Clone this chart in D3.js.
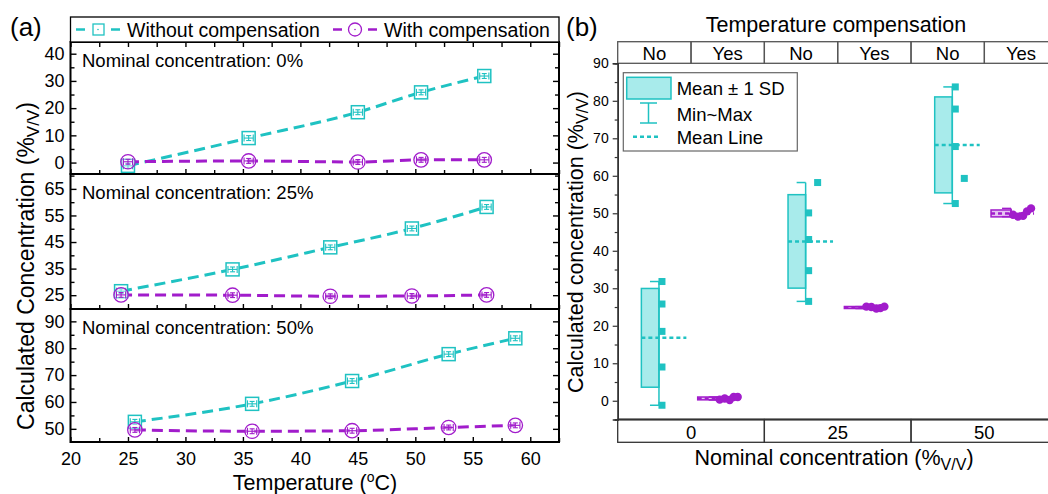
<!DOCTYPE html>
<html><head><meta charset="utf-8">
<script src="https://cdn.jsdelivr.net/npm/d3@7"></script>
<style>
body{margin:0;background:#fff}
svg{display:block}
text{font-family:"Liberation Sans",Arial,Helvetica,sans-serif;fill:#000}
</style>
</head><body>
<svg id="c" width="1048" height="494"></svg>
<script>
// ---------------- data ----------------
const seriesNames = ["Without compensation", "With compensation"];
const nominalLevels = ["0", "25", "50"];
const compLabels = ["No", "Yes"];
const temp0  = [25.0, 35.5, 45.0, 50.5, 56.0];
const temp25 = [24.4, 34.1, 42.6, 49.7, 56.2];
const temp50 = [25.6, 35.8, 44.5, 52.9, 58.7];
const without0  = [-1.2, 9.0, 18.5, 25.8, 31.8];
const with0     = [0.3, 0.6, 0.2, 1.0, 1.0];
const without25 = [26.5, 34.7, 43.0, 50.1, 58.2];
const with25    = [25.1, 25.0, 24.6, 24.7, 25.1];
const without50 = [52.6, 59.3, 67.8, 77.8, 83.7];
const with50    = [49.6, 49.1, 49.3, 50.5, 51.3];
const tempErr = [0.4, 0.4, 0.4, 0.4, 0.4];
const concErr = [0.9, 0.9, 0.9, 0.9, 0.9];
const tempTicks = [20, 25, 30, 35, 40, 45, 50, 55, 60];
const concTicks0  = [0, 10, 20, 30, 40];
const concTicks25 = [25, 35, 45, 55, 65];
const concTicks50 = [50, 60, 70, 80, 90];
const concTicksB  = [0, 10, 20, 30, 40, 50, 60, 70, 80, 90];

// ---------------- styles ----------------
const CY = "#1fc2c2", PU = "#a11ccb", CYF = "#a8ebeb", PUF = "#e6c2f2";
const svg = d3.select("#c");
const FONT = '"Liberation Sans",Arial,sans-serif';

// ================= Panel (a) =================
const xA = d3.scaleLinear([20, 62.5], [70.5, 559]);
const panelsA = [
  {t: temp0,  w: without0,  c: with0,  ticks: concTicks0,  dom: [-4.2, 44.3], top: 42,  bot: 174, label: "Nominal concentration: 0%"},
  {t: temp25, w: without25, c: with25, ticks: concTicks25, dom: [19.8, 70.6], top: 174, bot: 309, label: "Nominal concentration: 25%"},
  {t: temp50, w: without50, c: with50, ticks: concTicks50, dom: [45.1, 94.6], top: 309, bot: 442, label: "Nominal concentration: 50%"}
];
const minorX = d3.range(20, 62.6, 2.5);

panelsA.forEach((p, pi) => {
  const y = d3.scaleLinear(p.dom, [p.bot, p.top]);
  const g = svg.append("g");
  const minorY = d3.range(p.ticks[0] - 5, p.ticks[p.ticks.length - 1] + 6, 5).filter(v => v > p.dom[0] && v < p.dom[1] && !p.ticks.includes(v));

  const la = g.append("g").attr("transform", `translate(${xA.range()[0]},0)`)
    .call(d3.axisLeft(y).tickValues(p.ticks).tickSize(-6).tickPadding(6));
  la.selectAll("text").attr("font-size", 18).attr("font-family", FONT).attr("fill", "#000");
  g.append("g").attr("transform", `translate(${xA.range()[0]},0)`)
    .call(d3.axisLeft(y).tickValues(minorY).tickSize(-4).tickFormat(""));
  g.append("g").attr("transform", `translate(${xA.range()[1]},0)`)
    .call(d3.axisRight(y).tickValues(p.ticks).tickSize(-6).tickFormat(""));
  g.append("g").attr("transform", `translate(${xA.range()[1]},0)`)
    .call(d3.axisRight(y).tickValues(minorY).tickSize(-4).tickFormat(""));
  const ba = g.append("g").attr("transform", `translate(0,${p.bot})`)
    .call(d3.axisBottom(xA).tickValues(tempTicks).tickSize(-5).tickPadding(10).tickFormat(pi === 2 ? d3.format("d") : ""));
  ba.selectAll("text").attr("font-size", 18).attr("font-family", FONT).attr("fill", "#000");
  g.append("g").attr("transform", `translate(0,${p.bot})`)
    .call(d3.axisBottom(xA).tickValues(minorX.filter(v => !tempTicks.includes(v))).tickSize(-4).tickFormat(""));
  if (pi === 0) {
    g.append("g").attr("transform", `translate(0,${p.top})`)
      .call(d3.axisTop(xA).tickValues(minorX).tickSize(-5).tickFormat(""));
  }
  g.selectAll(".domain").remove();
  g.selectAll(".tick line").attr("stroke", "#000").attr("stroke-width", 1.4);

  g.append("rect").attr("x", xA.range()[0]).attr("y", p.top)
    .attr("width", xA.range()[1] - xA.range()[0]).attr("height", p.bot - p.top)
    .attr("fill", "none").attr("stroke", "#000").attr("stroke-width", 2);

  g.append("text").attr("x", 82).attr("y", p.top + 25).attr("font-size", 18.5).text(p.label);

  const line = d3.line().x(d => xA(d[0])).y(d => y(d[1])).curve(d3.curveMonotoneX);
  const dW = p.t.map((t, i) => [t, p.w[i]]);
  const dC = p.t.map((t, i) => [t, p.c[i]]);
  g.append("path").attr("d", line(dW)).attr("fill", "none").attr("stroke", CY)
    .attr("stroke-width", 3).attr("stroke-dasharray", "11,6");
  g.append("path").attr("d", line(dC)).attr("fill", "none").attr("stroke", PU)
    .attr("stroke-width", 3).attr("stroke-dasharray", "11,6");

  function errbars(data, col) {
    data.forEach((d, i) => {
      const cx = xA(d[0]), cy = y(d[1]);
      const x0 = xA(d[0] - tempErr[i]), x1 = xA(d[0] + tempErr[i]);
      const y0 = y(d[1] - concErr[i]), y1 = y(d[1] + concErr[i]);
      const eg = g.append("g").attr("stroke", col).attr("stroke-width", 1.1);
      eg.append("line").attr("x1", x0).attr("x2", x1).attr("y1", cy).attr("y2", cy);
      eg.append("line").attr("x1", x0).attr("x2", x0).attr("y1", cy - 3.5).attr("y2", cy + 3.5);
      eg.append("line").attr("x1", x1).attr("x2", x1).attr("y1", cy - 3.5).attr("y2", cy + 3.5);
      eg.append("line").attr("x1", cx).attr("x2", cx).attr("y1", y0).attr("y2", y1);
      eg.append("line").attr("x1", cx - 2.5).attr("x2", cx + 2.5).attr("y1", y0).attr("y2", y0);
      eg.append("line").attr("x1", cx - 2.5).attr("x2", cx + 2.5).attr("y1", y1).attr("y2", y1);
    });
  }
  g.selectAll(".sq").data(dW).join("rect")
    .attr("x", d => xA(d[0]) - 6.5).attr("y", d => y(d[1]) - 6.5)
    .attr("width", 13).attr("height", 13)
    .attr("fill", "#fff").attr("stroke", CY).attr("stroke-width", 1.5);
  errbars(dW, CY);
  g.selectAll(".ci").data(dC).join("circle")
    .attr("cx", d => xA(d[0])).attr("cy", d => y(d[1])).attr("r", 7.2)
    .attr("fill", "#fff").attr("fill-opacity", 0.35).attr("stroke", PU).attr("stroke-width", 1.3);
  errbars(dC, PU);
});

// legend (a)
const legA = svg.append("g");
legA.append("rect").attr("x", 70.5).attr("y", 17).attr("width", 488.5).attr("height", 25)
  .attr("fill", "#fff").attr("stroke", "#000").attr("stroke-width", 1.3);
[{x: 76, col: CY, shape: "sq", name: seriesNames[0]}, {x: 333, col: PU, shape: "ci", name: seriesNames[1]}].forEach(e => {
  const lg = legA.append("g");
  lg.append("line").attr("x1", e.x).attr("x2", e.x + 9).attr("y1", 29.5).attr("y2", 29.5).attr("stroke", e.col).attr("stroke-width", 2.5);
  lg.append("line").attr("x1", e.x + 35).attr("x2", e.x + 44).attr("y1", 29.5).attr("y2", 29.5).attr("stroke", e.col).attr("stroke-width", 2.5);
  if (e.shape === "sq") lg.append("rect").attr("x", e.x + 17).attr("y", 24).attr("width", 11).attr("height", 11).attr("fill", "none").attr("stroke", e.col).attr("stroke-width", 1.3);
  else lg.append("circle").attr("cx", e.x + 22).attr("cy", 29.5).attr("r", 6.5).attr("fill", "none").attr("stroke", e.col).attr("stroke-width", 1.3);
  lg.append("circle").attr("cx", e.x + 22).attr("cy", 29.5).attr("r", 0.8).attr("fill", e.col);
  lg.append("text").attr("x", e.x + 51).attr("y", 36.5).attr("font-size", 19.5).text(e.name);
});

svg.append("text").attr("x", 10).attr("y", 36).attr("font-size", 26).text("(a)");

const yTa = svg.append("text").attr("transform", "translate(34,266) rotate(-90)").attr("text-anchor", "middle").attr("font-size", 23);
yTa.append("tspan").text("Calculated Concentration (%");
yTa.append("tspan").attr("font-size", 17).attr("dy", 5).text("V/V");
yTa.append("tspan").attr("dy", -5).text(")");
const xTa = svg.append("text").attr("x", 315).attr("y", 490).attr("text-anchor", "middle").attr("font-size", 21.5);
xTa.append("tspan").text("Temperature (");
xTa.append("tspan").attr("font-size", 14).attr("dy", -8).text("o");
xTa.append("tspan").attr("dy", 8).text("C)");

// ================= Panel (b) =================
const cells = nominalLevels.flatMap(n => compLabels.map(c => n + "|" + c));
const xB = d3.scaleBand(cells, [617.7, 1057.7]);
const yB = d3.scaleLinear([-5, 90], [419.5, 63.3]);
const gb = svg.append("g");
const bw = xB.bandwidth();

gb.append("text").attr("x", 836).attr("y", 32).attr("text-anchor", "middle").attr("font-size", 21.5).text("Temperature compensation");
cells.forEach(c => {
  gb.append("rect").attr("x", xB(c)).attr("y", 41.7).attr("width", bw).attr("height", 21.6)
    .attr("fill", "none").attr("stroke", "#555").attr("stroke-width", 1.3);
  gb.append("text").attr("x", xB(c) + bw / 2).attr("y", 59.5).attr("text-anchor", "middle").attr("font-size", 18.5).text(c.split("|")[1]);
});
nominalLevels.forEach(n => {
  gb.append("rect").attr("x", xB(n + "|No")).attr("y", 419.5).attr("width", 2 * bw).attr("height", 22.8)
    .attr("fill", "none").attr("stroke", "#333").attr("stroke-width", 1.3);
  gb.append("text").attr("x", xB(n + "|No") + bw).attr("y", 438.5).attr("text-anchor", "middle").attr("font-size", 18.5).text(n);
});
gb.append("line").attr("x1", 617.7).attr("x2", 1057.7).attr("y1", 419.5).attr("y2", 419.5).attr("stroke", "#333").attr("stroke-width", 2);

const yaB = gb.append("g").attr("transform", "translate(617.7,0)")
  .call(d3.axisLeft(yB).tickValues(concTicksB).tickSize(5).tickPadding(4));
yaB.selectAll("text").attr("font-size", 14).attr("font-family", FONT).attr("fill", "#111");
gb.append("g").attr("transform", "translate(617.7,0)")
  .call(d3.axisLeft(yB).tickValues(d3.range(-5, 90, 10)).tickSize(3).tickFormat(""));
gb.selectAll(".domain").attr("stroke", "#333").attr("stroke-width", 1.5);
gb.selectAll(".tick line").attr("stroke", "#333").attr("stroke-width", 1.2);

const groupsB = [
  {nom: "0",  comp: "No",  vals: without0},
  {nom: "0",  comp: "Yes", vals: with0},
  {nom: "25", comp: "No",  vals: without25},
  {nom: "25", comp: "Yes", vals: with25},
  {nom: "50", comp: "No",  vals: without50},
  {nom: "50", comp: "Yes", vals: with50}
];
const styleNo  = {col: CY, fill: CYF, box: [-13, 4.6], mean: [-13, 32], dot: 3, shape: "sq"};
const styleYes = {col: PU, fill: PUF, box: [-30, -10], mean: [-30, 13], dot: 0, shape: "ci"};
groupsB.forEach(gr => {
  const s = gr.comp === "No" ? styleNo : styleYes;
  const cx = xB(gr.nom + "|" + gr.comp) + bw / 2;
  const m = d3.mean(gr.vals), sd = d3.deviation(gr.vals);
  const mn = d3.min(gr.vals), mx = d3.max(gr.vals);
  const g = gb.append("g");
  g.append("rect").attr("x", cx + s.box[0]).attr("y", yB(m + sd))
    .attr("width", s.box[1] - s.box[0]).attr("height", Math.max(yB(m - sd) - yB(m + sd), 2))
    .attr("fill", s.fill).attr("stroke", s.col).attr("stroke-width", 1.5);
  const wx = cx + s.box[1];
  g.append("line").attr("x1", wx).attr("x2", wx).attr("y1", yB(mn)).attr("y2", yB(mx)).attr("stroke", s.col).attr("stroke-width", 1.5);
  [mn, mx].forEach(v => g.append("line").attr("x1", wx - 9).attr("x2", wx).attr("y1", yB(v)).attr("y2", yB(v)).attr("stroke", s.col).attr("stroke-width", 1.5));
  g.append("line").attr("x1", cx + s.mean[0]).attr("x2", cx + s.mean[1]).attr("y1", yB(m)).attr("y2", yB(m))
    .attr("stroke", s.col).attr("stroke-width", 2.5).attr("stroke-dasharray", "4,3");
  const sorted = gr.comp === "No" ? gr.vals.slice().sort((a, b) => a - b) : gr.vals;
  const jit = gr.comp === "Yes" ? [-8, -3, 2, 6, 10]
            : gr.nom === "25" ? [0, 0, 0, 0, 9]
            : gr.nom === "50" ? [0, 9, 0, 0, 0] : [0, 0, 0, 0, 0];
  sorted.forEach((v, i) => {
    const px = gr.comp === "Yes" ? cx + jit[i] : wx + s.dot + jit[i];
    if (s.shape === "sq") g.append("rect").attr("x", px - 3.5).attr("y", yB(v) - 3.5).attr("width", 7).attr("height", 7).attr("fill", s.col);
    else g.append("circle").attr("cx", px).attr("cy", yB(v)).attr("r", 4.2).attr("fill", s.col);
  });
});

const lb = gb.append("g");
lb.append("rect").attr("x", 623.3).attr("y", 72.7).attr("width", 174).attr("height", 78.3).attr("fill", "#fff").attr("stroke", "#666").attr("stroke-width", 1.2);
lb.append("rect").attr("x", 626.7).attr("y", 77.3).attr("width", 44.3).attr("height", 21.7).attr("fill", CYF).attr("stroke", CY).attr("stroke-width", 1.5);
lb.append("line").attr("x1", 648.5).attr("x2", 648.5).attr("y1", 103).attr("y2", 123).attr("stroke", CY).attr("stroke-width", 1.5);
lb.append("line").attr("x1", 640).attr("x2", 657).attr("y1", 103).attr("y2", 103).attr("stroke", CY).attr("stroke-width", 1.5);
lb.append("line").attr("x1", 640).attr("x2", 657).attr("y1", 123).attr("y2", 123).attr("stroke", CY).attr("stroke-width", 1.5);
lb.append("line").attr("x1", 633).attr("x2", 661).attr("y1", 136.7).attr("y2", 136.7).attr("stroke", CY).attr("stroke-width", 2.5).attr("stroke-dasharray", "4,3");
[["Mean \u00b1 1 SD", 88.3], ["Min~Max", 114], ["Mean Line", 137]].forEach(([t, yy]) => {
  lb.append("text").attr("x", 676.7).attr("y", yy + 6.5).attr("font-size", 18.5).text(t);
});

svg.append("text").attr("x", 566).attr("y", 36).attr("font-size", 26).text("(b)");

const yTb = svg.append("text").attr("transform", "translate(583,242) rotate(-90)").attr("text-anchor", "middle").attr("font-size", 21.5);
yTb.append("tspan").text("Calculated concentration (%");
yTb.append("tspan").attr("font-size", 16).attr("dy", 5).text("V/V");
yTb.append("tspan").attr("dy", -5).text(")");
const xTb = svg.append("text").attr("x", 834).attr("y", 465).attr("text-anchor", "middle").attr("font-size", 21.5);
xTb.append("tspan").text("Nominal concentration (%");
xTb.append("tspan").attr("font-size", 16).attr("dy", 5).text("V/V");
xTb.append("tspan").attr("dy", -5).text(")");
</script>
</body></html>
